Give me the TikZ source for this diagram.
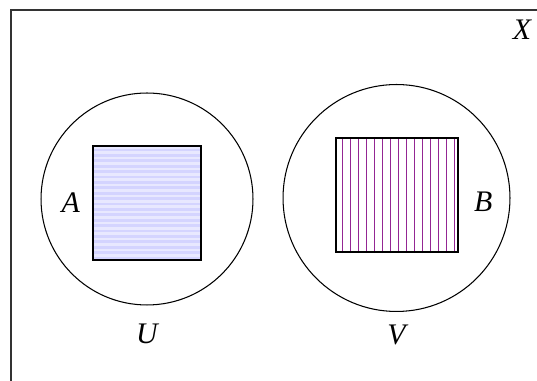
\documentclass[tikz,border=0pt]{standalone}
\usepackage{fontspec}
\setmainfont{Liberation Serif}
\usepackage{xcolor}
\usetikzlibrary{positioning, calc, backgrounds}

\begin{document}
\begin{tikzpicture}[
  x=0.02cm, y=0.02cm,
  ring/.style={circle, draw, line width=0.6pt, inner sep=0pt},
  setbox/.style={rectangle, draw, line width=1.2pt, inner sep=0pt, minimum height=2.28cm},
  hstripe/.style={blue!17, line width=1.6pt},
  vstripe/.style={violet!85, line width=0.55pt},
  lbl/.style={font=\fontsize{17}{19}\selectfont\itshape, inner sep=1pt}
]
  \useasboundingbox (0,0) rectangle (537,381);
  \draw[line width=0.6pt, black!80] (537,371) -| (11,0);

  \node[ring, minimum size=4.24cm] (U) at (147,182) {};
  \node[ring, minimum size=4.54cm] (V) at (396.5,183) {};

  \node[setbox, minimum width=2.16cm] (sqA) at (147,178) {};
  \node[setbox, minimum width=2.44cm] (sqB) at (397,186) {};

  % stripes behind the boxes
  \begin{scope}[on background layer]
    \fill[blue!9] (sqA.south west) rectangle (sqA.north east);
    \foreach \k in {0,...,20}{
      \draw[hstripe] ($(sqA.south west)+(0,3+5.4*\k)$) -- ($(sqA.south east)+(0,3+5.4*\k)$);
    }
    \foreach \k in {1,...,15}{
      \draw[vstripe] ($(sqB.south west)+(8*\k,0)$) -- ($(sqB.north west)+(8*\k,0)$);
    }
  \end{scope}

  \node[lbl, left=0.2cm of sqA] (lA) {A};
  \node[lbl, right=0.26cm of sqB, yshift=-0.14cm] (lB) {B};
  \node[lbl, below=0.33cm of U] (lU) {U};
  \node[lbl, below=0.22cm of V] (lV) {V};
  \node[lbl] (lX) at (522,351) {X};
\end{tikzpicture}
\end{document}
